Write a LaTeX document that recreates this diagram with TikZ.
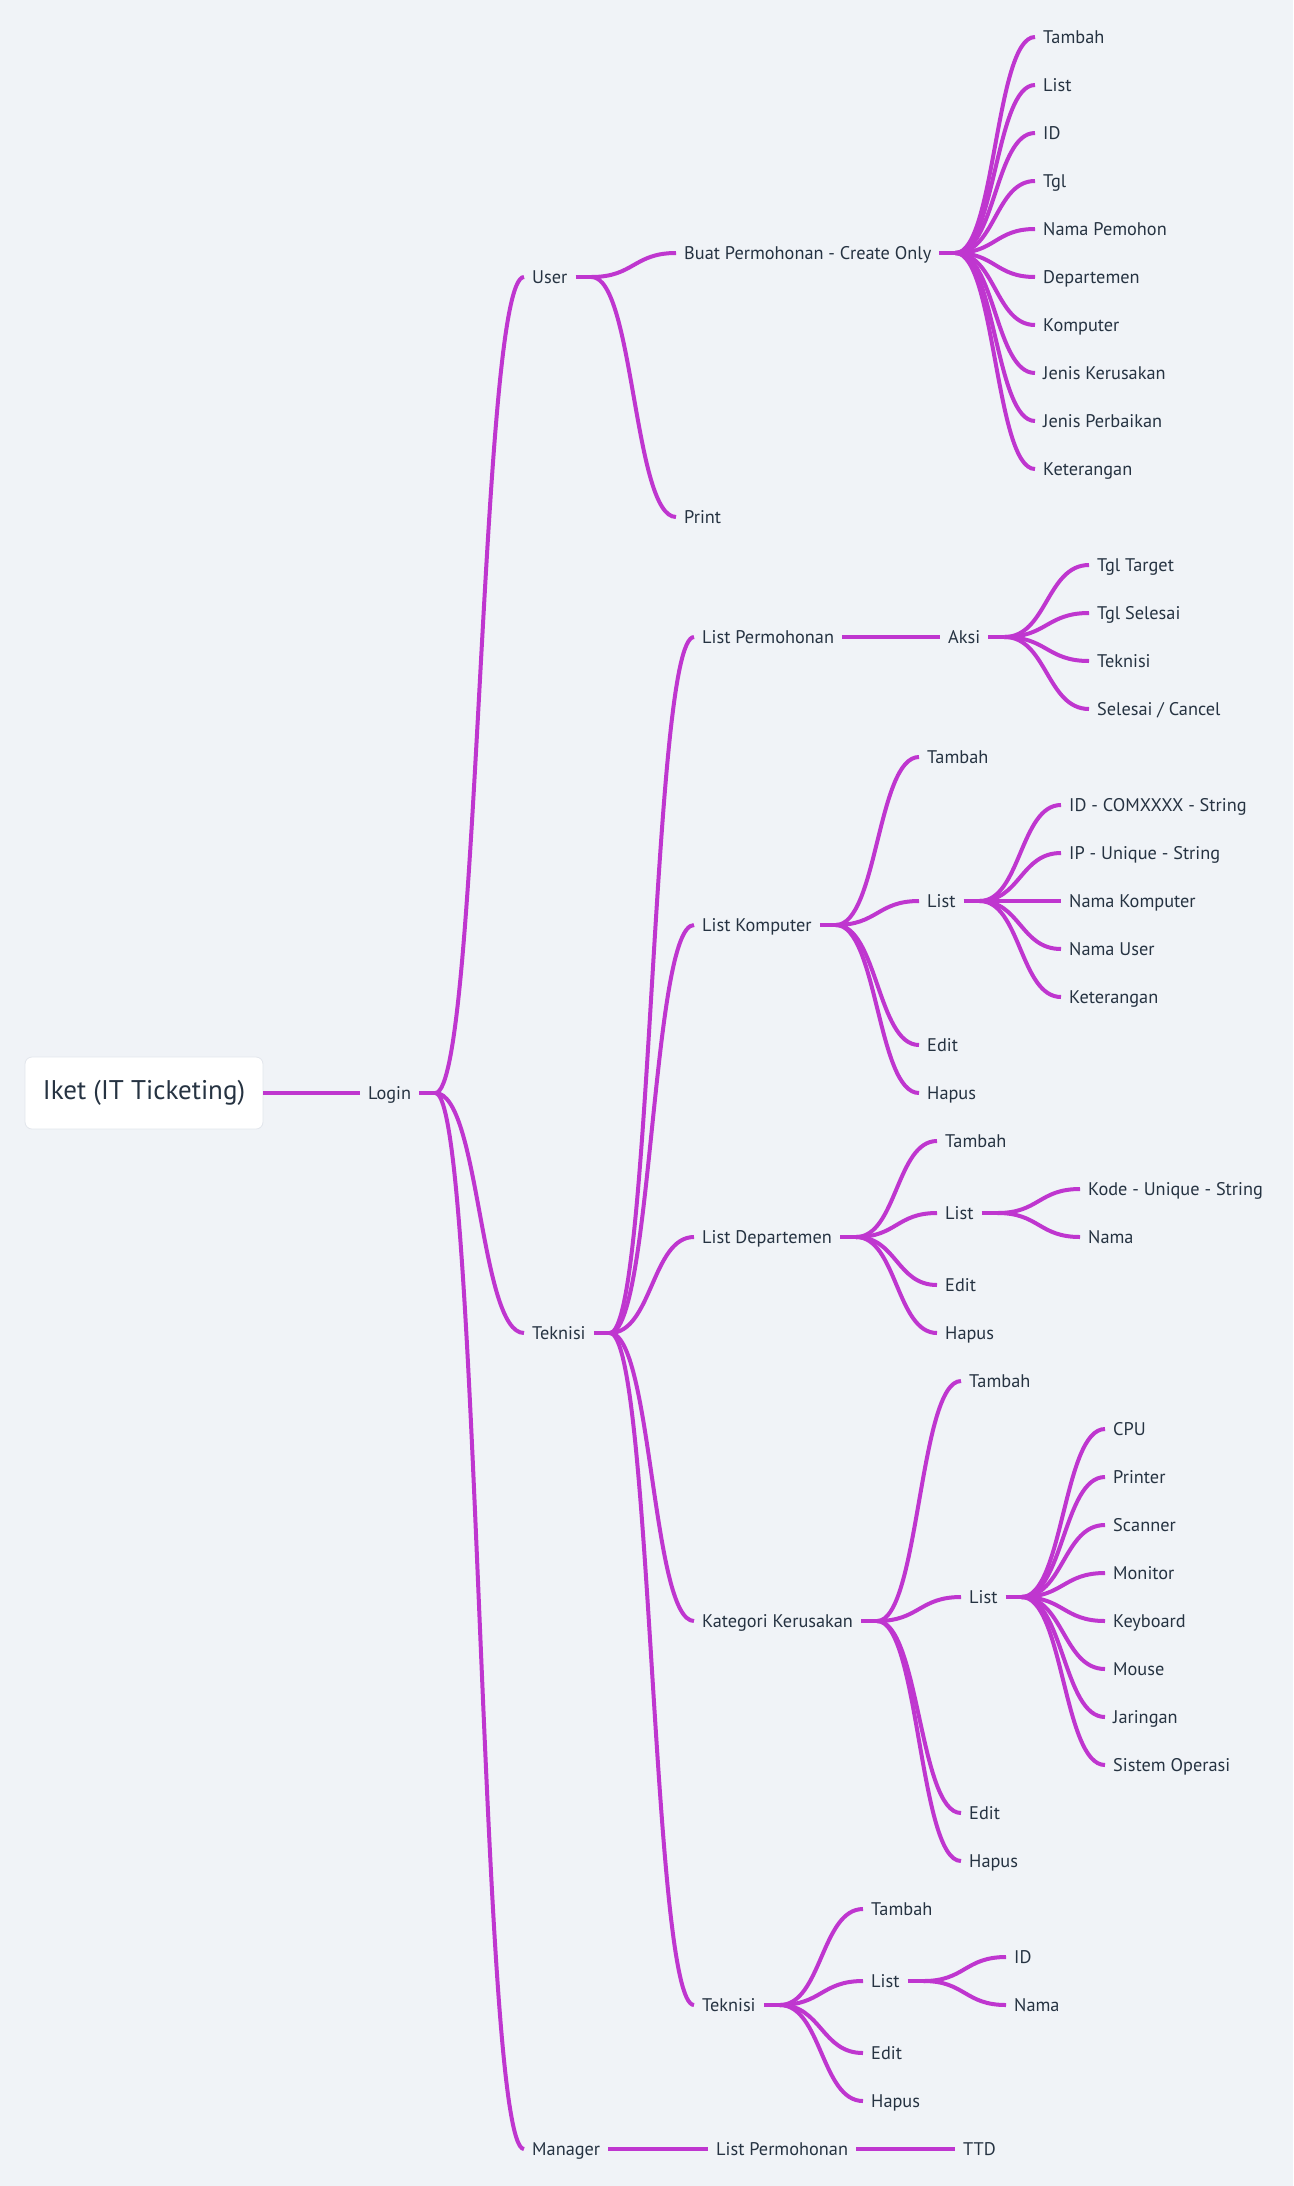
\documentclass[tikz,border=0pt]{standalone}
\usepackage{fontspec}
\setmainfont{PT Sans}
\usetikzlibrary{calc}
\definecolor{bgc}{RGB}{240,243,247}
\definecolor{edgec}{RGB}{191,54,207}
\definecolor{txtc}{RGB}{38,51,66}
\definecolor{shadowc}{RGB}{226,230,236}
\tikzset{
  lbl/.style={anchor=west, inner sep=0pt, text=txtc, font=\fontsize{18.3}{18.3}\selectfont, text height=12.9pt, text depth=0pt},
  rootbox/.style={fill=white, draw=shadowc, line width=0.8pt, rounded corners=7pt, minimum width=238pt, minimum height=72pt, inner sep=0pt, text=txtc, font=\fontsize{27}{27}\selectfont},
  conn/.style={draw=edgec, line width=4pt},
}
\newcommand\mmfan[2]{%
  \coordinate (#1B) at ([xshift=24pt]#1.east);
  \draw[conn] ([xshift=8pt]#1.east) -- (#1B);
  \foreach \c in {#2} {%
    \draw[conn] let \p1=(#1B), \p2=([xshift=-8pt]\c.west) in
      (\p1) .. controls ({0.5*\x1+0.5*\x2},\y1) and ({0.5*\x1+0.5*\x2},\y2) .. (\p2);
  }%
}
\newcommand\mmline[2]{\draw[conn] ([xshift=8pt]#1.east) -- ([xshift=-8pt]#2.west);}
\begin{document}
\begin{tikzpicture}[x=1pt,y=-1pt]
\fill[bgc] (0,0) rectangle (1293,2186);
\useasboundingbox (0,0) rectangle (1293,2186);

% root
\node[rootbox] (root) at (144,1093) {Iket (IT Ticketing)};
\node[lbl] (login) at (368,1093) {Login};
\draw[conn] (root.east) -- ([xshift=-8pt]login.west);

% level 2
\node[lbl] (user) at (532,277) {User};
\node[lbl] (tek) at (532,1333) {Teknisi};
\node[lbl] (mgr) at (532,2149) {Manager};

% user subtree
\node[lbl] (buat) at (684,253) {Buat Permohonan - Create Only};
\node[lbl] (print) at (684,517) {Print};
\node[lbl] (b0) at (1043,37) {Tambah};
\node[lbl] (b1) at (1043,85) {List};
\node[lbl] (b2) at (1043,133) {ID};
\node[lbl] (b3) at (1043,181) {Tgl};
\node[lbl] (b4) at (1043,229) {Nama Pemohon};
\node[lbl] (b5) at (1043,277) {Departemen};
\node[lbl] (b6) at (1043,325) {Komputer};
\node[lbl] (b7) at (1043,373) {Jenis Kerusakan};
\node[lbl] (b8) at (1043,421) {Jenis Perbaikan};
\node[lbl] (b9) at (1043,469) {Keterangan};

% teknisi subtree
\node[lbl] (lp) at (702,637) {List Permohonan};
\node[lbl] (aksi) at (948,637) {Aksi};
\node[lbl] (a1) at (1097,565) {Tgl Target};
\node[lbl] (a2) at (1097,613) {Tgl Selesai};
\node[lbl] (a3) at (1097,661) {Teknisi};
\node[lbl] (a4) at (1097,709) {Selesai / Cancel};

\node[lbl] (lk) at (702,925) {List Komputer};
\node[lbl] (lkT) at (927,757) {Tambah};
\node[lbl] (lkL) at (927,901) {List};
\node[lbl] (lkE) at (927,1045) {Edit};
\node[lbl] (lkH) at (927,1093) {Hapus};
\node[lbl] (lk1) at (1069,805) {ID - COMXXXX - String};
\node[lbl] (lk2) at (1069,853) {IP - Unique - String};
\node[lbl] (lk3) at (1069,901) {Nama Komputer};
\node[lbl] (lk4) at (1069,949) {Nama User};
\node[lbl] (lk5) at (1069,997) {Keterangan};

\node[lbl] (ld) at (702,1237) {List Departemen};
\node[lbl] (ldT) at (945,1141) {Tambah};
\node[lbl] (ldL) at (945,1213) {List};
\node[lbl] (ldE) at (945,1285) {Edit};
\node[lbl] (ldH) at (945,1333) {Hapus};
\node[lbl] (ld1) at (1088,1189) {Kode - Unique - String};
\node[lbl] (ld2) at (1088,1237) {Nama};

\node[lbl] (kk) at (702,1621) {Kategori Kerusakan};
\node[lbl] (kkT) at (969,1381) {Tambah};
\node[lbl] (kkL) at (969,1597) {List};
\node[lbl] (kkE) at (969,1813) {Edit};
\node[lbl] (kkH) at (969,1861) {Hapus};
\node[lbl] (kk1) at (1113,1429) {CPU};
\node[lbl] (kk2) at (1113,1477) {Printer};
\node[lbl] (kk3) at (1113,1525) {Scanner};
\node[lbl] (kk4) at (1113,1573) {Monitor};
\node[lbl] (kk5) at (1113,1621) {Keyboard};
\node[lbl] (kk6) at (1113,1669) {Mouse};
\node[lbl] (kk7) at (1113,1717) {Jaringan};
\node[lbl] (kk8) at (1113,1765) {Sistem Operasi};

\node[lbl] (tk) at (702,2005) {Teknisi};
\node[lbl] (tkT) at (871,1909) {Tambah};
\node[lbl] (tkL) at (871,1981) {List};
\node[lbl] (tkE) at (871,2053) {Edit};
\node[lbl] (tkH) at (871,2101) {Hapus};
\node[lbl] (tk1) at (1014,1957) {ID};
\node[lbl] (tk2) at (1014,2005) {Nama};

% manager subtree
\node[lbl] (mlp) at (716,2149) {List Permohonan};
\node[lbl] (ttd) at (963,2149) {TTD};

% connectors
\mmfan{login}{user,tek,mgr}
\mmfan{user}{buat,print}
\mmfan{buat}{b0,b1,b2,b3,b4,b5,b6,b7,b8,b9}
\mmfan{tek}{lp,lk,ld,kk,tk}
\mmline{lp}{aksi}
\mmfan{aksi}{a1,a2,a3,a4}
\mmfan{lk}{lkT,lkL,lkE,lkH}
\mmfan{lkL}{lk1,lk2,lk3,lk4,lk5}
\mmfan{ld}{ldT,ldL,ldE,ldH}
\mmfan{ldL}{ld1,ld2}
\mmfan{kk}{kkT,kkL,kkE,kkH}
\mmfan{kkL}{kk1,kk2,kk3,kk4,kk5,kk6,kk7,kk8}
\mmfan{tk}{tkT,tkL,tkE,tkH}
\mmfan{tkL}{tk1,tk2}
\mmline{mgr}{mlp}
\mmline{mlp}{ttd}
\end{tikzpicture}
\end{document}
